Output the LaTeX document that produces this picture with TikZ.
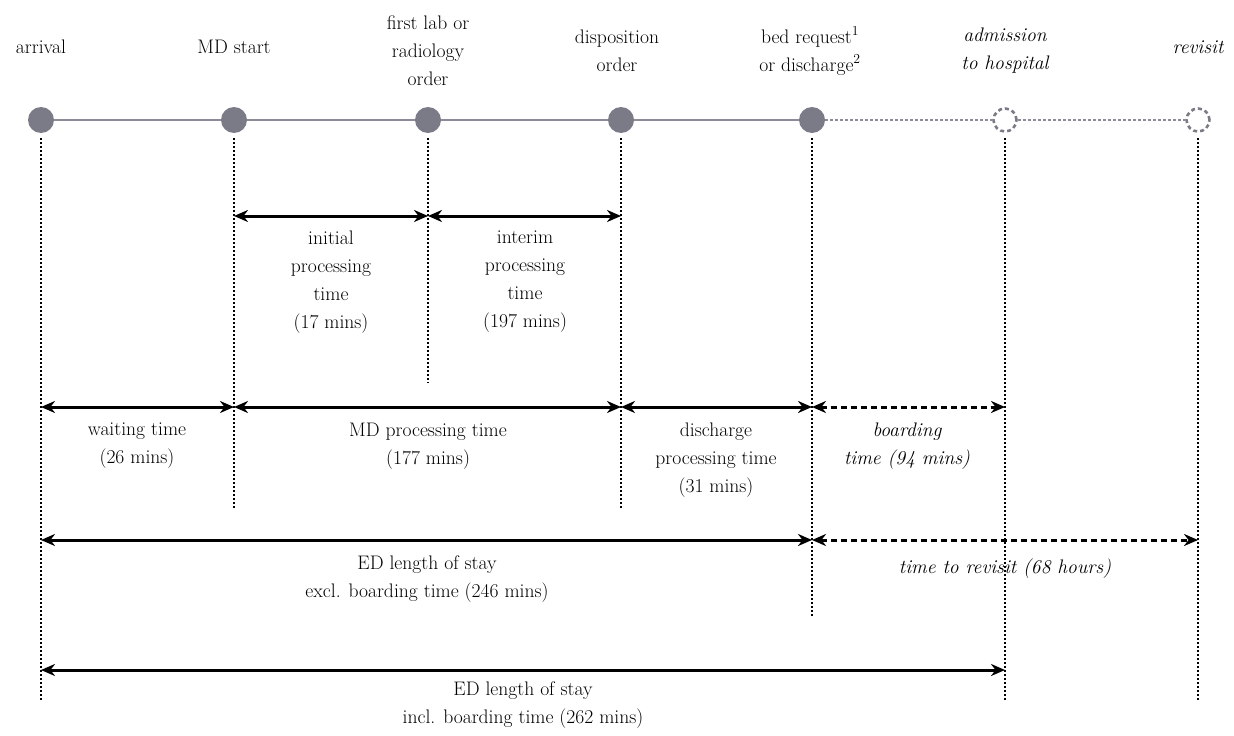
\documentclass[tikz,border=0pt]{standalone}
\usetikzlibrary{arrows.meta}
\definecolor{evgray}{HTML}{7B7B88}
\definecolor{lngray}{HTML}{8C8C98}
\begin{document}
\begin{tikzpicture}[x=1pt,y=-1pt,
  event/.style={circle,fill=evgray,minimum size=26pt,inner sep=0pt},
  future/.style={circle,draw=evgray,line width=2.6pt,dash pattern=on 4pt off 3pt,minimum size=23pt,inner sep=0pt},
  tl/.style={draw=lngray,line width=2pt},
  tldash/.style={draw=lngray,line width=1.8pt,dash pattern=on 3pt off 2pt},
  guide/.style={line width=1.4pt,dash pattern=on 2pt off 2pt},
  span/.style={{Stealth[length=14pt,width=12pt,inset=4.5pt]}-{Stealth[length=14pt,width=12pt,inset=4.5pt]},line width=3pt},
  spandash/.style={span,dash pattern=on 6pt off 4pt},
  lbl/.style={align=center,inner sep=0pt,font=\fontsize{19.6}{28}\selectfont},
  ilbl/.style={align=center,inner sep=0pt,font=\fontsize{19.6}{28}\selectfont\itshape}]
\useasboundingbox (0,0) rectangle (1234,736);

% events
\node[event]  (e1) at (41,120) {};
\node[event]  (e2) at (234,120) {};
\node[event]  (e3) at (428,120) {};
\node[event]  (e4) at (621,120) {};
\node[event]  (e5) at (812,120) {};
\node[future] (e6) at (1005,120) {};
\node[future] (e7) at (1198,120) {};

\draw[tl] (e1) -- (e2);
\draw[tl] (e2) -- (e3);
\draw[tl] (e3) -- (e4);
\draw[tl] (e4) -- (e5);
\draw[tldash] (e5) -- (e6);
\draw[tldash] (e6) -- (e7);

% event labels
\node[lbl]  (t1) at (41,47) {arrival};
\node[lbl]  (t2) at (234,47) {MD start};
\node[lbl]  (t3) at (428,51) {first lab or\\radiology\\order};
\node[lbl]  (t4) at (617,51) {disposition\\order};
\node[lbl]  (t5) at (810,51) {bed request\textsuperscript{1}\\or discharge\textsuperscript{2}};
\node[ilbl] (t6) at (1005,51) {admission\\to hospital};
\node[ilbl] (t7) at (1198,47) {revisit};

% guide ends
\coordinate (g1) at (41,700);
\coordinate (g2) at (234,508);
\coordinate (g3) at (428,383);
\coordinate (g4) at (621,508);
\coordinate (g5) at (812,618);
\coordinate (g6) at (1005,700);
\coordinate (g7) at (1198,700);
\foreach \i in {1,...,7} {
  \draw[guide] ([yshift=-5pt]e\i.south) -- (g\i);
}

% span anchors
\coordinate (a2) at (234,216);
\coordinate (a3) at (428,216);
\coordinate (a4) at (621,216);
\coordinate (b1) at (41,407);
\coordinate (b2) at (234,407);
\coordinate (b4) at (621,407);
\coordinate (b5) at (812,407);
\coordinate (b6) at (1005,407);
\coordinate (c1) at (41,540);
\coordinate (c5) at (812,540);
\coordinate (c7) at (1198,540);
\coordinate (d1) at (41,670);
\coordinate (d6) at (1005,670);

\draw[span] (a2) -- (a3);
\draw[span] (a3) -- (a4);
\draw[span] (b1) -- (b2);
\draw[span] (b2) -- (b4);
\draw[span] (b4) -- (b5);
\draw[spandash] (b5) -- (b6);
\draw[span] (c1) -- (c5);
\draw[spandash] (c5) -- (c7);
\draw[span] (d1) -- (d6);

% span labels
\node[lbl] (s1) at (331,282) {initial\\processing\\time\\(17 mins)};
\node[lbl] (s2) at (525,282) {interim\\processing\\time\\(197 mins)};
\node[lbl] (s3) at (137,446) {waiting time\\(26 mins)};
\node[lbl] (s4) at (428,446) {MD processing time\\(177 mins)};
\node[lbl] (s5) at (716,460) {discharge\\processing time\\(31 mins)};
\node[ilbl] (s6) at (907,446) {boarding\\time (94 mins)};
\node[lbl] (s7) at (427,579) {ED length of stay\\excl. boarding time (246 mins)};
\node[ilbl] (s8) at (1005,569) {time to revisit (68 hours)};
\node[lbl] (s9) at (523,705) {ED length of stay\\incl. boarding time (262 mins)};
\end{tikzpicture}
\end{document}
